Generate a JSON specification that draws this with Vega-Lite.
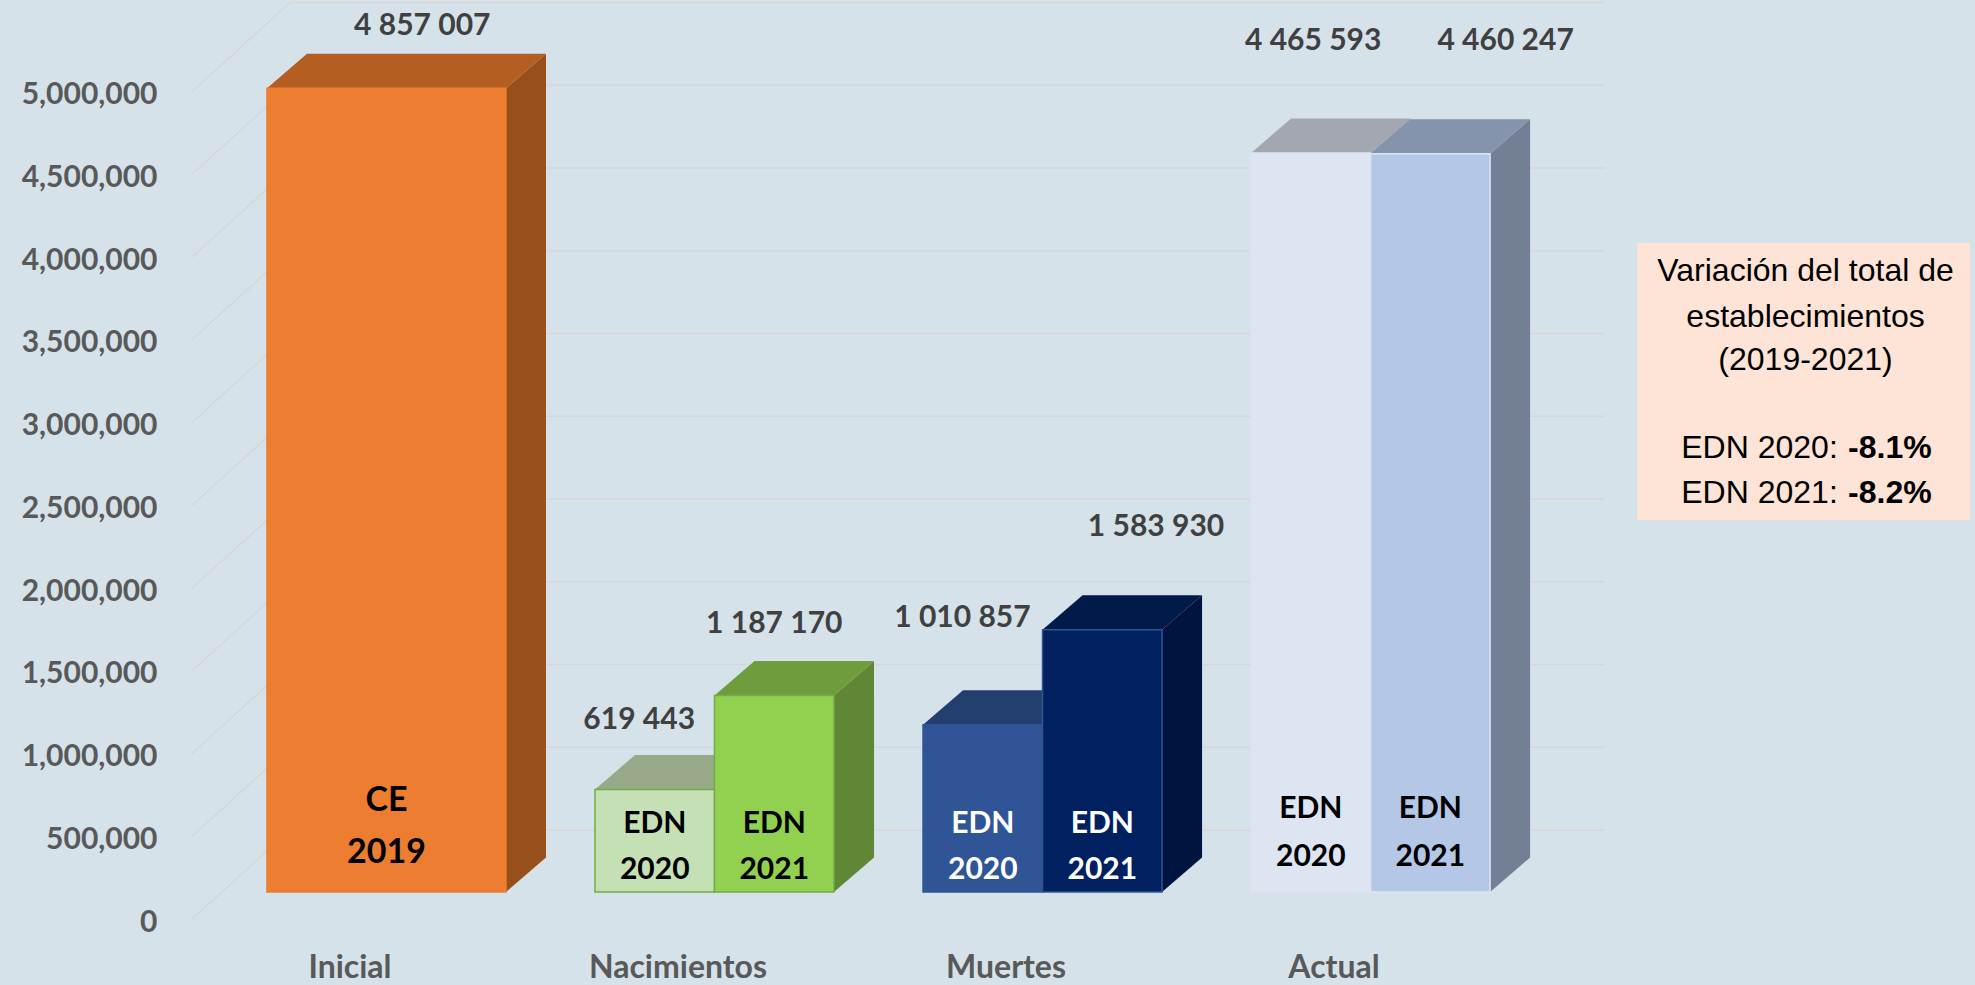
{
"$schema":"https://vega.github.io/schema/vega-lite/v6.json",
"width":1815,"height":892,
"autosize":"none",
"padding":{"left":160,"top":0,"right":0,"bottom":93},
"background":"#d6e2ea",
"config":{"view":{"stroke":null},"axis":{"grid":false,"domain":false,"ticks":false,"title":null}},
"data":{"values":[
{"grupo":"Inicial","serie":"CE 2019","valor":4857007,"etiqueta":"4 857 007"},
{"grupo":"Nacimientos","serie":"EDN 2020","valor":619443,"etiqueta":"619 443"},
{"grupo":"Nacimientos","serie":"EDN 2021","valor":1187170,"etiqueta":"1 187 170"},
{"grupo":"Muertes","serie":"EDN 2020","valor":1010857,"etiqueta":"1 010 857"},
{"grupo":"Muertes","serie":"EDN 2021","valor":1583930,"etiqueta":"1 583 930"},
{"grupo":"Actual","serie":"EDN 2020","valor":4465593,"etiqueta":"4 465 593"},
{"grupo":"Actual","serie":"EDN 2021","valor":4460247,"etiqueta":"4 460 247"}
]},
"transform":[
{"calculate":"datum.grupo+' '+datum.serie","as":"id"},
{"calculate":"indexof(['Inicial','Nacimientos','Muertes','Actual'],datum.grupo)*2.745+0.895+(datum.serie=='EDN 2021'?1:0)","as":"x0"},
{"calculate":"datum.x0+(datum.grupo=='Inicial'?2:1)","as":"x1"},
{"calculate":"split(datum.serie,' ')[0]","as":"linea1"},
{"calculate":"split(datum.serie,' ')[1]","as":"linea2"}
],
"layer":[
{"data":{"values":[{"marca":0},{"marca":500000},{"marca":1000000},{"marca":1500000},{"marca":2000000},{"marca":2500000},{"marca":3000000},{"marca":3500000},{"marca":4000000},{"marca":4500000},{"marca":5000000}]},
 "transform":[{"calculate":"datum.marca+374622","as":"fondo"}],
 "mark":{"type":"rule","color":"#d6d6d4","strokeWidth":1.5},
 "encoding":{
  "x":{"datum":1.088,"type":"quantitative","scale":{"domain":[0,15.188],"nice":false,"zero":false},
   "axis":{"title":null,"values":[1.895,4.64,7.385,10.13],"labelExpr":"['Inicial','Nacimientos','Muertes','Actual'][round((datum.value-1.895)/2.745)]","labelOffset":-37,"labelPadding":60,"labelFont":"Lato","labelFontWeight":"bold","labelFontSize":32,"labelColor":"#595959"}},
  "x2":{"datum":12.09},
  "y":{"field":"fondo","type":"quantitative","scale":{"domain":[0,5389728],"nice":false,"zero":false},
   "axis":{"title":null,"values":[0,500000,1000000,1500000,2000000,2500000,3000000,3500000,4000000,4500000,5000000],"labelExpr":"format(datum.value,',')","labelOffset":30,"labelPadding":3,"labelFont":"Lato","labelFontWeight":"bold","labelFontSize":30,"labelColor":"#595959"}}
 }},
{"data":{"values":[{"marca":0},{"marca":500000},{"marca":1000000},{"marca":1500000},{"marca":2000000},{"marca":2500000},{"marca":3000000},{"marca":3500000},{"marca":4000000},{"marca":4500000},{"marca":5000000}]},
 "transform":[{"calculate":"datum.marca+374622","as":"fondo"},{"calculate":"datum.marca-163142","as":"frente"}],
 "mark":{"type":"rule","color":"#d6d6d4","strokeWidth":1.5},
 "encoding":{
  "x":{"datum":0.268,"type":"quantitative","scale":{"domain":[0,15.188],"nice":false,"zero":false}},
  "x2":{"datum":1.088},
  "y":{"field":"frente","type":"quantitative","scale":{"domain":[0,5389728],"nice":false,"zero":false}},
  "y2":{"field":"fondo"}
 }},
{"transform":[{"calculate":"[0,1]","as":"t"},{"flatten":["t"]},
  {"calculate":"datum.x1+datum.t*0.335","as":"px"},{"calculate":"datum.valor+datum.t*208459","as":"py"},{"calculate":"datum.t*208459","as":"py2"}],
 "mark":{"type":"area","line":false,"opacity":1},
 "encoding":{
  "x":{"field":"px","type":"quantitative","scale":{"domain":[0,15.188],"nice":false,"zero":false}},
  "y":{"field":"py","type":"quantitative","stack":null,"scale":{"domain":[0,5389728],"nice":false,"zero":false}},
  "y2":{"field":"py2"},
  "color":{"field":"id","type":"nominal","legend":null,"scale":{"domain":["Inicial CE 2019","Nacimientos EDN 2020","Nacimientos EDN 2021","Muertes EDN 2020","Muertes EDN 2021","Actual EDN 2020","Actual EDN 2021"],"range":["#97501c","#7f9a6c","#5f8736","#1f3864","#001440","#8a93a3","#727f95"]}}
 }},
{"transform":[{"calculate":"[0,1]","as":"t"},{"flatten":["t"]},
  {"calculate":"datum.x0+datum.t*0.335","as":"px"},{"calculate":"datum.x1+datum.t*0.335","as":"px2"},{"calculate":"datum.valor+datum.t*208459","as":"py"}],
 "mark":{"type":"area","orient":"horizontal","line":false,"opacity":1},
 "encoding":{
  "y":{"field":"py","type":"quantitative","scale":{"domain":[0,5389728],"nice":false,"zero":false}},
  "x":{"field":"px","type":"quantitative","stack":null,"scale":{"domain":[0,15.188],"nice":false,"zero":false}},
  "x2":{"field":"px2"},
  "color":{"field":"id","type":"nominal","legend":null,"scale":{"domain":["Inicial CE 2019","Nacimientos EDN 2020","Nacimientos EDN 2021","Muertes EDN 2020","Muertes EDN 2021","Actual EDN 2020","Actual EDN 2021"],"range":["#b55e22","#97a987","#6f9c3d","#233f70","#001a4a","#a3a8b0","#8593ad"]}}
 }},
{"mark":{"type":"rect","strokeWidth":1.5},
 "encoding":{
  "x":{"field":"x0","type":"quantitative","scale":{"domain":[0,15.188],"nice":false,"zero":false}},
  "x2":{"field":"x1"},
  "y":{"field":"valor","type":"quantitative","scale":{"domain":[0,5389728],"nice":false,"zero":false}},
  "y2":{"datum":0},
  "color":{"field":"id","type":"nominal","legend":null,"scale":{"domain":["Inicial CE 2019","Nacimientos EDN 2020","Nacimientos EDN 2021","Muertes EDN 2020","Muertes EDN 2021","Actual EDN 2020","Actual EDN 2021"],"range":["#ed7d31","#c5e0b4","#92d050","#2f5597","#002060","#dde4f2","#b4c7e7"]}},
  "stroke":{"field":"id","type":"nominal","legend":null,"scale":{"domain":["Inicial CE 2019","Nacimientos EDN 2020","Nacimientos EDN 2021","Muertes EDN 2020","Muertes EDN 2021","Actual EDN 2020","Actual EDN 2021"],"range":["#ed7d31","#70ad47","#70ad47","#2f5597","#2f5597","#dde4f2","#dce6f4"]}}
 }},
{"transform":[
  {"calculate":"{'Inicial CE 2019':[0.30,375000],'Nacimientos EDN 2020':[-0.13,418000],'Nacimientos EDN 2021':[0,430000],'Muertes EDN 2020':[-0.17,642000],'Muertes EDN 2021':[0.45,623000],'Actual EDN 2020':[0.02,678000],'Actual EDN 2021':[0.63,684000]}[datum.id]","as":"desfase"},
  {"calculate":"(datum.x0+datum.x1)/2+datum.desfase[0]","as":"ex"},
  {"calculate":"datum.valor+datum.desfase[1]","as":"ey"}],
 "mark":{"type":"text","font":"Lato","fontWeight":"bold","fontSize":30,"color":"#404040","baseline":"middle","align":"center"},
 "encoding":{
  "x":{"field":"ex","type":"quantitative","scale":{"domain":[0,15.188],"nice":false,"zero":false}},
  "y":{"field":"ey","type":"quantitative","scale":{"domain":[0,5389728],"nice":false,"zero":false}},
  "text":{"field":"etiqueta"}
 }},
{"transform":[
  {"calculate":"(datum.x0+datum.x1)/2","as":"cx"},
  {"calculate":"datum.grupo=='Inicial'?549848:(datum.grupo=='Actual'?501511:410876)","as":"ly"}],
 "mark":{"type":"text","font":"Lato","fontWeight":"bold","baseline":"middle","align":"center"},
 "encoding":{
  "x":{"field":"cx","type":"quantitative","scale":{"domain":[0,15.188],"nice":false,"zero":false}},
  "y":{"field":"ly","type":"quantitative","scale":{"domain":[0,5389728],"nice":false,"zero":false}},
  "text":{"field":"linea1"},
  "size":{"condition":{"test":"datum.grupo=='Inicial'","value":34},"value":30},
  "color":{"condition":{"test":"datum.grupo=='Muertes'","value":"#ffffff"},"value":"#000000"}
 }},
{"transform":[
  {"calculate":"(datum.x0+datum.x1)/2","as":"cx"},
  {"calculate":"datum.grupo=='Inicial'?235650:(datum.grupo=='Actual'?211480:132930)","as":"ly"}],
 "mark":{"type":"text","font":"Lato","fontWeight":"bold","baseline":"middle","align":"center"},
 "encoding":{
  "x":{"field":"cx","type":"quantitative","scale":{"domain":[0,15.188],"nice":false,"zero":false}},
  "y":{"field":"ly","type":"quantitative","scale":{"domain":[0,5389728],"nice":false,"zero":false}},
  "text":{"field":"linea2"},
  "size":{"condition":{"test":"datum.grupo=='Inicial'","value":34},"value":30},
  "color":{"condition":{"test":"datum.grupo=='Muertes'","value":"#ffffff"},"value":"#000000"}
 }},
{"data":{"values":[{"caja":"Variación"}]},
 "mark":{"type":"rect","color":"#fde4d6"},
 "encoding":{
  "x":{"datum":12.36,"type":"quantitative","scale":{"domain":[0,15.188],"nice":false,"zero":false}},
  "x2":{"datum":15.146},
  "y":{"datum":3921450,"type":"quantitative","scale":{"domain":[0,5389728],"nice":false,"zero":false}},
  "y2":{"datum":2247734}
 }},
{"data":{"values":[{"texto":"Variación del total de","v":3752266},{"texto":"establecimientos","v":3474320},{"texto":"(2019-2021)","v":3214502}]},
 "mark":{"type":"text","font":"Liberation Sans","fontSize":32,"color":"#000000","baseline":"middle","align":"center"},
 "encoding":{
  "x":{"datum":13.77,"type":"quantitative","scale":{"domain":[0,15.188],"nice":false,"zero":false}},
  "y":{"field":"v","type":"quantitative","scale":{"domain":[0,5389728],"nice":false,"zero":false}},
  "text":{"field":"texto"}
 }},
{"data":{"values":[{"texto":"EDN 2020:","v":2682779},{"texto":"EDN 2021:","v":2410876}]},
 "mark":{"type":"text","font":"Liberation Sans","fontSize":32,"color":"#000000","baseline":"middle","align":"right"},
 "encoding":{
  "x":{"datum":14.04,"type":"quantitative","scale":{"domain":[0,15.188],"nice":false,"zero":false}},
  "y":{"field":"v","type":"quantitative","scale":{"domain":[0,5389728],"nice":false,"zero":false}},
  "text":{"field":"texto"}
 }},
{"data":{"values":[{"texto":"-8.1%","v":2682779},{"texto":"-8.2%","v":2410876}]},
 "mark":{"type":"text","font":"Liberation Sans","fontWeight":"bold","fontSize":32,"color":"#000000","baseline":"middle","align":"left"},
 "encoding":{
  "x":{"datum":14.126,"type":"quantitative","scale":{"domain":[0,15.188],"nice":false,"zero":false}},
  "y":{"field":"v","type":"quantitative","scale":{"domain":[0,5389728],"nice":false,"zero":false}},
  "text":{"field":"texto"}
 }}
],
"resolve":{"scale":{"color":"independent","stroke":"independent","size":"independent"}}
}
